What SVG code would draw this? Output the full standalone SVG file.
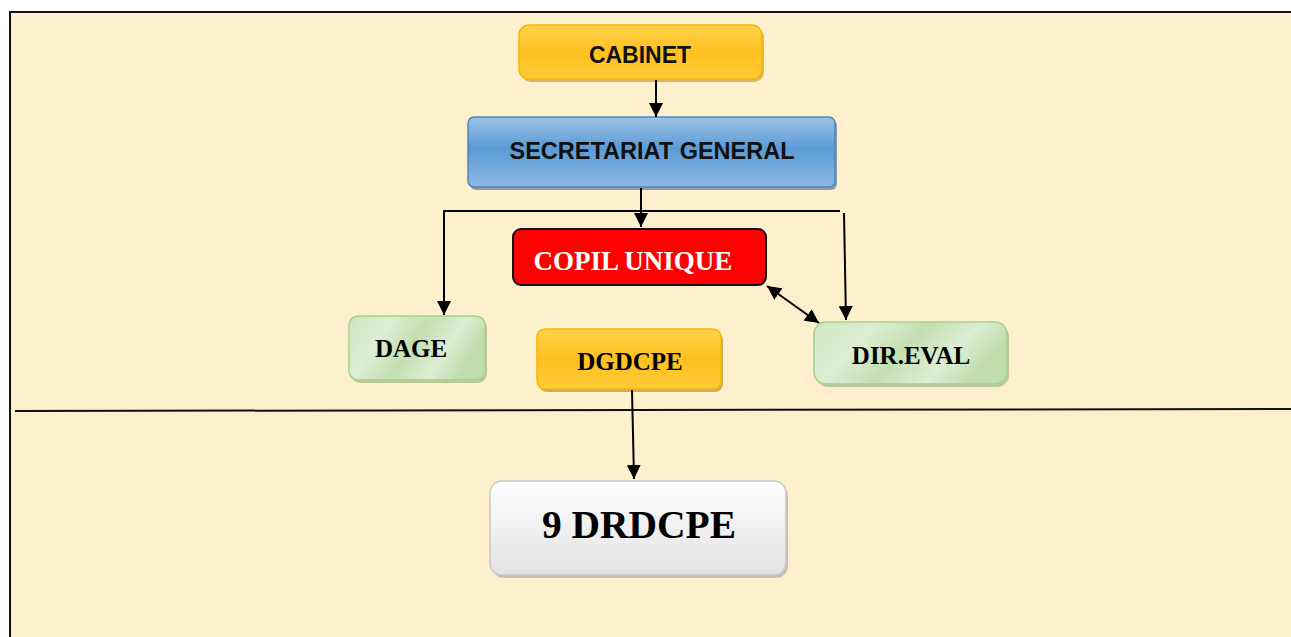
<svg xmlns="http://www.w3.org/2000/svg" width="1291" height="637" viewBox="0 0 1291 637">
<defs>
<linearGradient id="gY" x1="0" y1="0" x2="0" y2="1">
<stop offset="0" stop-color="#FFD24D"/><stop offset="0.5" stop-color="#FFC01E"/><stop offset="1" stop-color="#FFCB3A"/>
</linearGradient>
<linearGradient id="gB" x1="0" y1="0" x2="0" y2="1">
<stop offset="0" stop-color="#9CC3E5"/><stop offset="0.45" stop-color="#5B9BD5"/><stop offset="1" stop-color="#8DB9E2"/>
</linearGradient>
<linearGradient id="gG" x1="0" y1="0" x2="1" y2="0.3">
<stop offset="0" stop-color="#CFE6C0"/><stop offset="0.3" stop-color="#DDEED3"/><stop offset="0.55" stop-color="#C3DFB2"/><stop offset="0.8" stop-color="#DDEED3"/><stop offset="1" stop-color="#C0DDAD"/>
</linearGradient>
<linearGradient id="gW" x1="0" y1="0" x2="0" y2="1">
<stop offset="0" stop-color="#FFFFFF"/><stop offset="1" stop-color="#E2E2E2"/>
</linearGradient>
<marker id="ah" viewBox="0 0 10 10" refX="10" refY="5" markerWidth="14" markerHeight="14" markerUnits="userSpaceOnUse" orient="auto-start-reverse">
<path d="M0,0 L10,5 L0,10 z" fill="#000"/>
</marker>
<style>
.sans{font-family:"Liberation Sans","Open Sans",Arial,sans-serif;font-weight:bold;fill:#111;text-anchor:middle}
.serif{font-family:"Liberation Serif","DejaVu Serif",serif;font-weight:bold;fill:#000;text-anchor:middle}
.shadow{opacity:0.55}
.ln{stroke:#000;stroke-width:2;fill:none}
</style>
</defs>
<rect x="0" y="0" width="1291" height="637" fill="#FFFFFF"/>
<rect x="10" y="12" width="1282" height="626" fill="#FEF0CD" stroke="#111" stroke-width="2"/>
<line x1="15" y1="411" x2="1291" y2="409" stroke="#111" stroke-width="2"/>

<g id="cabinet">
<rect x="521" y="28" width="243" height="54" rx="10" fill="#B8860B" class="shadow"/>
<rect x="519" y="25" width="243" height="54" rx="10" fill="url(#gY)" stroke="#F5B800" stroke-width="1.5"/>
<text x="640" y="63" font-size="23" class="sans">CABINET</text>
</g>

<g id="secretariat">
<rect x="470" y="120" width="367" height="70" rx="6" fill="#2E5C8A" class="shadow"/>
<rect x="468" y="117" width="367" height="70" rx="6" fill="url(#gB)" stroke="#4A86C0" stroke-width="1.5"/>
<text x="652" y="159" font-size="23.5" class="sans">SECRETARIAT GENERAL</text>
</g>

<g id="copil">
<rect x="513" y="229" width="253" height="56" rx="8" fill="#FF0000" stroke="#111" stroke-width="2"/>
<text x="633" y="270" font-size="27" class="serif" style="fill:#fff">COPIL UNIQUE</text>
</g>

<g id="dage">
<rect x="351" y="319" width="136" height="64" rx="9" fill="#8CA870" class="shadow"/>
<rect x="349" y="316" width="136" height="64" rx="9" fill="url(#gG)" stroke="#A6CF8D" stroke-width="1.5"/>
<text x="411" y="357" font-size="25" class="serif">DAGE</text>
</g>

<g id="dgdcpe">
<rect x="539" y="332" width="184" height="60" rx="8" fill="#A07800" class="shadow"/>
<rect x="537" y="329" width="184" height="60" rx="8" fill="url(#gY)" stroke="#F5B800" stroke-width="1.5"/>
<text x="630" y="370" font-size="25" class="serif">DGDCPE</text>
</g>

<g id="direval">
<rect x="816" y="325" width="193" height="62" rx="12" fill="#8CA870" class="shadow"/>
<rect x="814" y="322" width="193" height="62" rx="12" fill="url(#gG)" stroke="#A6CF8D" stroke-width="1.5"/>
<text x="911" y="364" font-size="25" class="serif">DIR.EVAL</text>
</g>

<g id="drdcpe">
<rect x="492" y="484" width="296" height="94" rx="12" fill="#9A9A9A" class="shadow"/>
<rect x="490" y="481" width="296" height="94" rx="12" fill="url(#gW)" stroke="#C8C8C8" stroke-width="1.5"/>
<text x="639" y="538" font-size="39.5" class="serif">9 DRDCPE</text>
</g>

<g id="connectors">
<line x1="656" y1="80" x2="656" y2="117" class="ln" marker-end="url(#ah)"/>
<line x1="641" y1="188" x2="641" y2="227" class="ln" marker-end="url(#ah)"/>
<polyline points="840,211 444,211 444,315" class="ln" marker-end="url(#ah)"/>
<line x1="844" y1="213" x2="846" y2="320" class="ln" marker-end="url(#ah)"/>
<line x1="767" y1="286" x2="819" y2="323" class="ln" marker-start="url(#ah)" marker-end="url(#ah)"/>
<line x1="632" y1="390" x2="634" y2="479" class="ln" marker-end="url(#ah)"/>
</g>
</svg>
